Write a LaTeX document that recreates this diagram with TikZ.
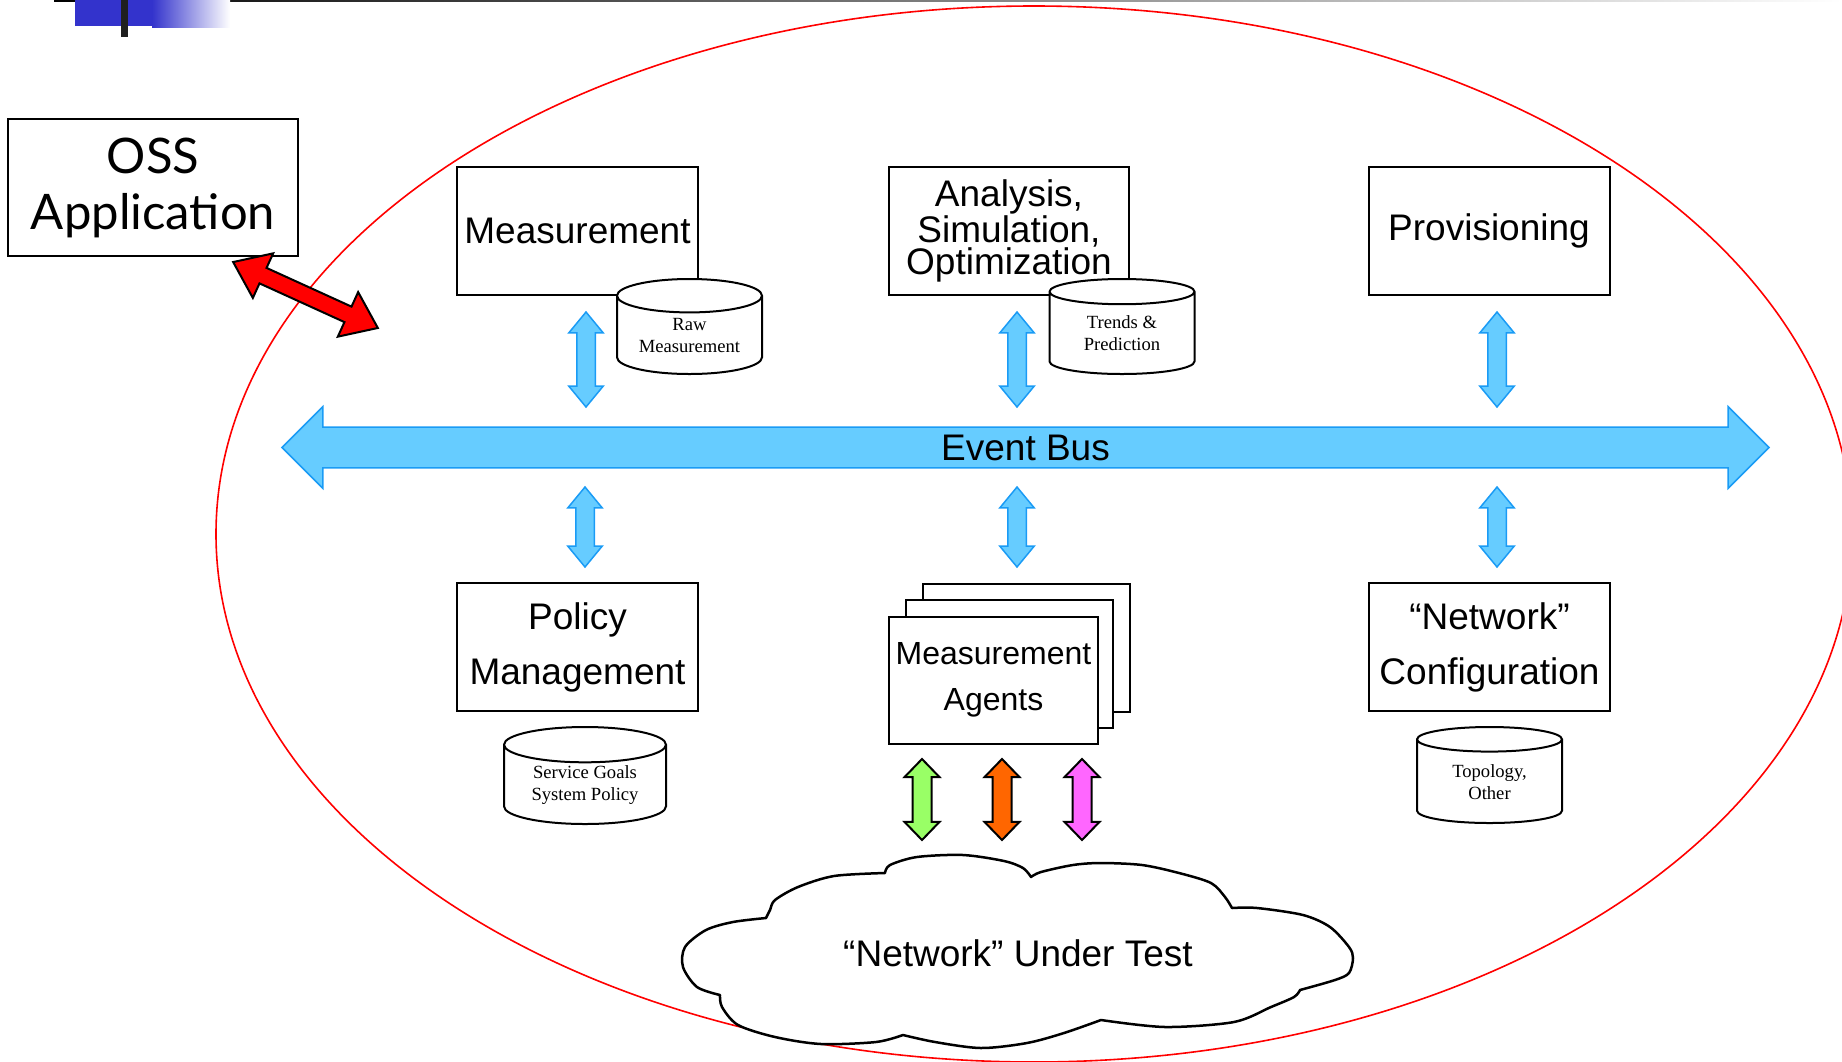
\documentclass[tikz,border=0pt]{standalone}
\usepackage{fontspec}
\setmainfont{Liberation Serif}
\setsansfont{Liberation Sans}
\newfontfamily\ossfont{Lato}
\usetikzlibrary{arrows.meta, positioning, shapes.geometric, shapes.arrows, calc}
\definecolor{busBlue}{HTML}{66CCFF}
\definecolor{busEdge}{HTML}{1A9BF5}
\definecolor{ovalRed}{HTML}{FF0000}
\definecolor{titleBlue}{HTML}{3333CC}
\definecolor{agentGreen}{HTML}{99FF66}
\definecolor{agentOrange}{HTML}{FF6600}
\definecolor{agentPink}{HTML}{FF66FF}
\tikzset{
  boxM/.style={rectangle, draw=black, fill=white, line width=2pt, align=center,
               font=\sffamily\fontsize{37}{55}\selectfont, inner sep=0pt,
               minimum width=241pt, minimum height=128pt},
  dbase/.style={cylinder, shape border rotate=90, aspect=0.33, draw=black, fill=white,
                line width=2pt, align=center, font=\fontsize{18.6}{22}\selectfont,
                inner sep=0pt, minimum width=145pt, minimum height=95pt, anchor=shape center},
  busArrow/.style={double arrow, draw=busEdge, fill=busBlue, line width=1.5pt,
                   inner xsep=0pt, inner ysep=8.5pt, double arrow head extend=8pt,
                   double arrow tip angle=79, minimum height=95pt, rotate=90},
  linkArrow/.style={double arrow, draw=black, line width=2pt,
                    inner xsep=0pt, inner ysep=8.5pt, double arrow head extend=8pt,
                    double arrow tip angle=88, minimum height=81pt, rotate=90},
}
\begin{document}
\begin{tikzpicture}[x=1pt, y=-1pt]
  \useasboundingbox (0,0) rectangle (1842,1061);
  % slide decoration
  \shade[left color=black, right color=white] (54,0) rectangle (1842,1.5);
  \fill[titleBlue] (75,0) rectangle (152,26);
  \shade[left color=titleBlue, right color=white] (152,0) rectangle (230,27);
  \fill[black!88] (121,0) rectangle (128,37);
  % system boundary
  \draw[ovalRed, line width=1.6pt] (1034,534) ellipse [x radius=818pt, y radius=528pt];

  \node[rectangle, draw=black, line width=2pt, fill=white, align=center,
        font=\ossfont\fontsize{49}{56}\selectfont, inner sep=0pt,
        minimum width=290pt, minimum height=137pt] (oss) at (153,187.5) {OSS\\Application};

  % upper row
  \node[boxM] (meas) at (577.5,231) {Measurement};
  \node[boxM, minimum width=240pt, font=\sffamily\fontsize{37}{29}\selectfont] (anal) at (1009,231)
       {Analysis,\\Simulation,\\Optimization};
  \node[boxM] (prov) at (1489,231) {Provisioning};
  \node[dbase] (rawdb) at (689.5,326.5) {Raw\\Measurement};
  \node[dbase] (trenddb) at (1122,326.5) {Trends \&\\Prediction};

  % event bus
  \node[double arrow, draw=busEdge, fill=busBlue, line width=1.5pt,
        font=\sffamily\fontsize{37}{40}\selectfont, inner xsep=0pt, inner ysep=6.75pt,
        double arrow head extend=20.5pt, double arrow tip angle=90,
        minimum height=1487pt] (bus) at (1025.5,447.5) {Event Bus};

  \node[busArrow] (measLink) at (586,359.5) {};
  \node[busArrow] (analLink) at (1017,359.5) {};
  \node[busArrow] (provLink) at (1497,359.5) {};
  \node[busArrow, minimum height=80pt] (polLink) at (585,527) {};
  \node[busArrow, minimum height=80pt] (agLink) at (1017,527) {};
  \node[busArrow, minimum height=80pt] (confLink) at (1497,527) {};

  % lower row
  \node[boxM] (policy) at (577.5,647) {Policy\\Management};
  \node[dbase, minimum width=162pt, minimum height=97pt] (goaldb) at (585,775.5)
       {Service Goals\\System Policy};
  \node[boxM, minimum width=207pt] (agentsC) at (1026,647.5) {};
  \node[boxM, minimum width=207pt] (agentsB) at ($(agentsC)+(-16.5,16)$) {};
  \node[boxM, minimum width=209pt, minimum height=127pt,
        font=\sffamily\fontsize{32}{46}\selectfont] (agents) at ($(agentsB)+(-16,16.5)$)
       {Measurement\\Agents};
  \node[boxM] (netconf) at (1489.5,647) {“Network”\\Configuration};
  \node[dbase, minimum height=96pt] (topodb) at (1489.5,775) {Topology,\\Other};

  \node[linkArrow, fill=agentGreen] (greenLink) at (922,799.5) {};
  \node[linkArrow, fill=agentOrange] (orangeLink) at (1002,799.5) {};
  \node[linkArrow, fill=agentPink] (pinkLink) at (1082,799.5) {};

  % network under test
  \draw[line width=2.5pt, fill=white, line join=round]
    plot[smooth] coordinates {(885,873) (890,865) (917,857) (963,855) (1004,861) (1023,868) (1031,877)}
    -- plot[smooth] coordinates {(1031,877) (1041,872) (1073,865) (1101,863) (1142,865) (1179,873) (1211,883) (1225,897) (1232,908)}
    -- plot[smooth] coordinates {(1232,908) (1257,908) (1303,915) (1330,927) (1349,947) (1353,958) (1349,973) (1335,980) (1300,990)}
    -- plot[smooth] coordinates {(1300,990) (1294,997) (1271,1007) (1234,1022) (1165,1027) (1101,1020)}
    -- plot[smooth] coordinates {(1101,1020) (1064,1033) (1027,1043) (981,1048) (935,1042) (903,1035)}
    -- plot[smooth] coordinates {(903,1035) (876,1042) (821,1044) (775,1037) (738,1025) (722,1007) (720,995)}
    -- plot[smooth] coordinates {(720,995) (697,987) (683,967) (685,947) (706,930) (733,922) (766,918)}
    -- plot[smooth] coordinates {(766,918) (770,910) (775,900) (798,887) (834,876) (885,873)}
    -- cycle;
  \node[font=\sffamily\fontsize{37}{40}\selectfont] (nut) at (1018,953) {“Network” Under Test};

  % link to the OSS application
  \node[double arrow, draw=black, fill=ovalRed, line width=2pt, inner xsep=0pt, inner ysep=7.5pt,
        double arrow head extend=16pt, double arrow tip angle=73.5, minimum height=159pt,
        rotate=-24.5] (ossLink) at (305.5,295) {};
\end{tikzpicture}
\end{document}
